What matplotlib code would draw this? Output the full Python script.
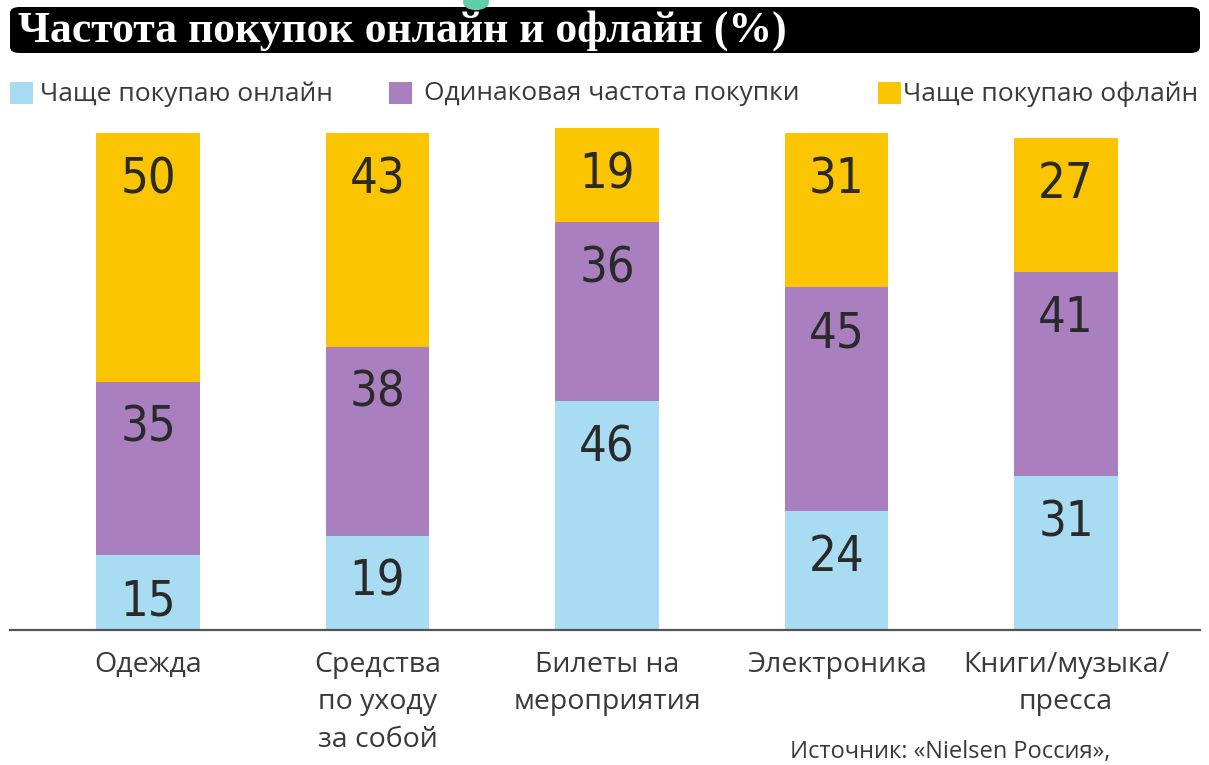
import matplotlib.pyplot as plt
import numpy as np
from matplotlib.patches import Rectangle, FancyBboxPatch, Circle

# data
categories = ['Одежда', 'Средства\nпо уходу\nза собой', 'Билеты на\nмероприятия',
              'Электроника', 'Книги/музыка/\nпресса']
online = [15, 19, 46, 24, 31]
same = [35, 38, 36, 45, 41]
offline = [50, 43, 19, 31, 27]
series_names = ['Чаще покупаю онлайн', 'Одинаковая частота покупки', 'Чаще покупаю офлайн']
colors = ['#a8dcf2', '#a97fbf', '#fbc502']

W, H = 1209, 765
fig = plt.figure(figsize=(W / 100, H / 100), dpi=100)

def fx(x):
    return x / W

def fy(y):
    return 1 - y / H

label_font = ['Open Sans', 'DejaVu Sans']

# axes: baseline at y=630px, 100% at y=133px
ax = fig.add_axes([fx(10), fy(630), fx(1200) - fx(10), (630 - 133) / H])
x = np.arange(len(categories))
width = 0.45

bottom = np.zeros(len(categories))
for vals, col in zip([online, same, offline], colors):
    vals = np.array(vals)
    ax.bar(x, vals, width, bottom=bottom, color=col, clip_on=False, zorder=2)
    tops = bottom + vals
    for xi, t, v in zip(x, tops, vals):
        ax.text(xi, t - 9.3, str(v), ha='center', va='center', fontsize=35,
                family='DejaVu Sans', fontstretch='condensed', color='#2a2a2a', zorder=3)
    bottom = tops

ax.set_xlim((10 - 148) / 229.5, (1200 - 148) / 229.5)
ax.set_ylim(0, 100)
ax.set_xticks(x)
ax.set_xticklabels(categories, fontsize=20.5, family=label_font, color='#3a3a3a',
                   linespacing=1.45)
ax.tick_params(axis='x', length=0, pad=15)
ax.set_yticks([])
for s in ['top', 'left', 'right']:
    ax.spines[s].set_visible(False)
ax.spines['bottom'].set_color('#555555')
ax.spines['bottom'].set_linewidth(1.6)
ax.patch.set_alpha(0)

# title bar
bar = FancyBboxPatch((fx(10), fy(53)), fx(1200) - fx(10), (53 - 7) / H,
                     boxstyle='round,pad=0,rounding_size=0.008',
                     transform=fig.transFigure, facecolor='black', edgecolor='none')
fig.add_artist(bar)
fig.text(fx(18), fy(31), 'Частота покупок онлайн и офлайн (%)', color='white',
         fontsize=31.5, family=['Liberation Serif', 'DejaVu Serif'], fontweight='bold',
         va='center', ha='left')
fig.add_artist(Circle((fx(476), fy(2)), 13 / W, transform=fig.transFigure,
                      facecolor='#5ecfa9', edgecolor='none'))

# legend
leg_box = [10, 389, 878]
leg_txt = [40, 424, 903]
for bx, tx, name, col in zip(leg_box, leg_txt, series_names, colors):
    fig.add_artist(Rectangle((fx(bx), fy(104)), 23 / W, 22 / H,
                             transform=fig.transFigure, facecolor=col, edgecolor='none'))
    fig.text(fx(tx), fy(94), name, fontsize=19, family=label_font,
             color='#3a3a3a', va='center', ha='left')

# source
fig.text(fx(790), fy(752), 'Источник: «Nielsen Россия»,', fontsize=17,
         family=label_font, color='#3a3a3a', va='center', ha='left')

fig.savefig('out.png', dpi=100, facecolor='white')
